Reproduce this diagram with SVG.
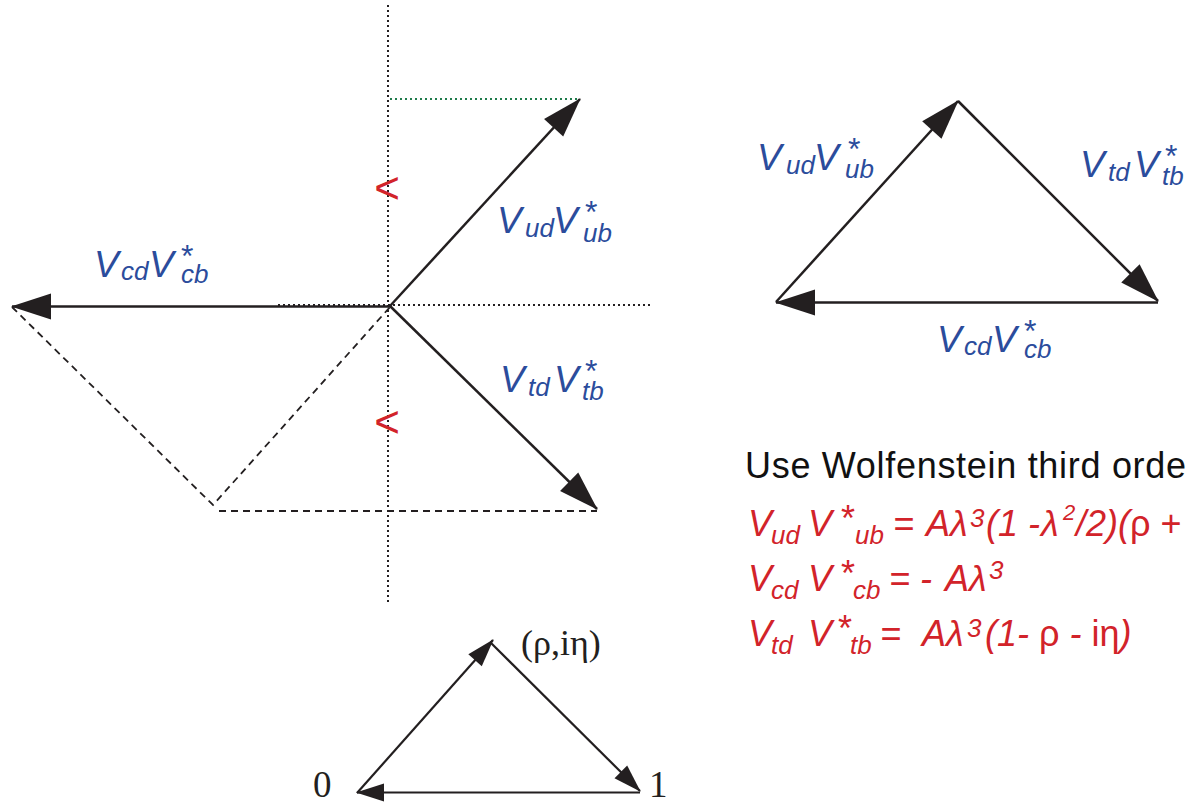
<svg xmlns="http://www.w3.org/2000/svg" width="1187" height="805" viewBox="0 0 1187 805">
<style>
.ln{stroke:#231f20;stroke-width:2.5;fill:none}
.ln2{stroke:#231f20;stroke-width:2.2;fill:none}
.dot{stroke:#231f20;stroke-width:2;stroke-dasharray:2 3;fill:none}
.gdot{stroke:#1f7a4a;stroke-width:2;stroke-dasharray:2 3;fill:none}
.dash{stroke:#231f20;stroke-width:1.8;stroke-dasharray:7 5;fill:none}
.b{font-family:"Liberation Sans",Arial,sans-serif;font-style:italic;fill:#2b4c9c}
.bV{font-size:37px}
.bs{font-size:26px}
.bst{font-size:32px;font-style:normal}
.r{font-family:"Liberation Sans",Arial,sans-serif;font-style:italic;fill:#d2232a;font-size:36px}
.rs{font-size:26px}
.up{font-style:normal}
.blk{font-family:"Liberation Sans",Arial,sans-serif;fill:#111;font-size:36px;letter-spacing:0.7px}
.ser{font-family:"Liberation Serif","Times New Roman",serif;fill:#231f20}
.mk{font-family:"Liberation Sans",Arial,sans-serif;fill:#d2232a;font-size:44px;text-anchor:middle}
</style>
<defs>
<marker id="ah" markerUnits="userSpaceOnUse" orient="auto" refX="0" refY="0" markerWidth="44" markerHeight="30" viewBox="-42 -15 44 30" overflow="visible">
<path d="M1,0 L-39,-13 L-39,13 Z" fill="#231f20"/>
</marker>
<marker id="ahs" markerUnits="userSpaceOnUse" orient="auto" refX="0" refY="0" markerWidth="32" markerHeight="22" viewBox="-30 -11 32 22" overflow="visible">
<path d="M1,0 L-27,-9 L-27,9 Z" fill="#231f20"/>
</marker>
</defs>

<g id="axes">
<line class="dot" x1="388" y1="5" x2="388" y2="603"/>
<line class="dot" x1="278" y1="305" x2="653" y2="305"/>
<line class="gdot" x1="390" y1="99" x2="580" y2="99"/>
<polyline class="dash" points="12,307 213,505 390,307"/>
<line class="dash" x1="219" y1="511" x2="597" y2="511"/>
<text class="mk" x="387" y="203">&lt;</text>
<text class="mk" x="387" y="437">&lt;</text>
</g>

<g id="connectors">
<path class="ln" d="M390,306 L580,99" marker-end="url(#ah)"/>
<path class="ln" d="M390,306 L597,509" marker-end="url(#ah)"/>
<path class="ln" d="M390,306.5 L12,306.5" marker-end="url(#ah)"/>
<path class="ln" d="M776,302 L958,101" marker-end="url(#ah)"/>
<path class="ln" d="M958,101 L1158,301" marker-end="url(#ah)"/>
<path class="ln" d="M1158,302.5 L776,302.5" marker-end="url(#ah)"/>
<path class="ln2" d="M357,793 L493,640" marker-end="url(#ahs)"/>
<path class="ln2" d="M490,642 L640,791" marker-end="url(#ahs)"/>
<path class="ln2" d="M640,792.5 L357,792.5" marker-end="url(#ahs)"/>
</g>

<g id="label-ud-center" class="b" transform="translate(497,233)">
<text class="bV" x="0" y="0">V</text><text class="bs" x="28" y="4">ud</text><text class="bV" x="56" y="0">V</text><text class="bst" x="88" y="-10">*</text><text class="bs" x="86" y="9">ub</text>
</g>
<g id="label-td-center" class="b" transform="translate(500,392)">
<text class="bV" x="0" y="0">V</text><text class="bs" x="28" y="4">td</text><text class="bV" x="54" y="0">V</text><text class="bst" x="85" y="-10">*</text><text class="bs" x="82" y="8">tb</text>
</g>
<g id="label-cd-left" class="b" transform="translate(94,277)">
<text class="bV" x="0" y="0">V</text><text class="bs" x="27" y="3">cd</text><text class="bV" x="55" y="0">V</text><text class="bst" x="87" y="-10">*</text><text class="bs" x="87" y="6">cb</text>
</g>
<g id="label-ud-right" class="b" transform="translate(757,170)">
<text class="bV" x="0" y="0">V</text><text class="bs" x="29" y="4">ud</text><text class="bV" x="57" y="0">V</text><text class="bst" x="91" y="-10">*</text><text class="bs" x="88" y="8">ub</text>
</g>
<g id="label-td-right" class="b" transform="translate(1080,177)">
<text class="bV" x="0" y="0">V</text><text class="bs" x="28" y="4">td</text><text class="bV" x="54" y="0">V</text><text class="bst" x="85" y="-10">*</text><text class="bs" x="82" y="8">tb</text>
</g>
<g id="label-cd-right" class="b" transform="translate(937,352)">
<text class="bV" x="0" y="0">V</text><text class="bs" x="27" y="3">cd</text><text class="bV" x="55" y="0">V</text><text class="bst" x="87" y="-10">*</text><text class="bs" x="87" y="6">cb</text>
</g>

<g id="wolfenstein">
<text class="blk" x="745" y="478">Use Wolfenstein third order</text>
<g class="r">
<text x="748" y="536">V</text><text class="rs" x="771" y="544">ud</text><text x="808" y="536">V</text><text class="up" x="841" y="531">*</text><text class="rs" x="855" y="544">ub</text><text x="893" y="536">=</text><text x="926" y="536">Aλ</text><text class="rs" x="970" y="527">3</text><text x="986" y="536">(1 -</text><text x="1041" y="536">λ</text><text style="font-size:22px" x="1063" y="520">2</text><text x="1076" y="536">/2)(<tspan class="up">ρ +</tspan></text>
<text x="748" y="591">V</text><text class="rs" x="771" y="599">cd</text><text x="808" y="591">V</text><text class="up" x="841" y="586">*</text><text class="rs" x="853" y="599">cb</text><text x="889" y="591">= -</text><text x="945" y="591">Aλ</text><text class="rs" x="989" y="579">3</text>
<text x="748" y="646">V</text><text class="rs" x="771" y="654">td</text><text x="808" y="646">V</text><text class="up" x="838" y="641">*</text><text class="rs" x="850" y="654">tb</text><text x="880" y="646">=</text><text x="922" y="646">Aλ</text><text class="rs" x="967" y="637">3</text><text x="985" y="646">(1- <tspan class="up">ρ</tspan> - <tspan class="up">iη</tspan>)</text>
</g>
</g>

<g id="unitary-labels" class="ser">
<text x="521" y="655" style="font-size:36px">(ρ,iη)</text>
<text x="313" y="797" style="font-size:37px">0</text>
<text x="649" y="797" style="font-size:37px">1</text>
</g>
</svg>
